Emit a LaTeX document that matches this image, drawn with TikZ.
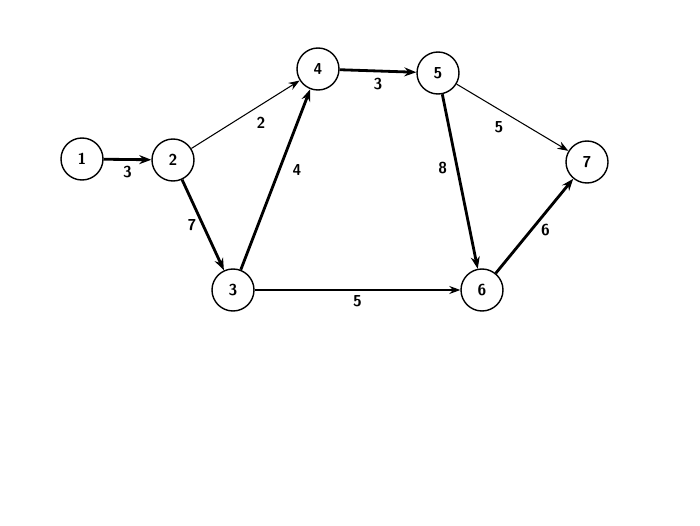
\documentclass[tikz,border=0pt]{standalone}
\usetikzlibrary{arrows.meta}
\begin{document}
\begin{tikzpicture}
			[mynode/.style={circle,draw,thick,fill=white,minimum size=0.84cm,inner sep=0pt,font=\sffamily\bfseries\small},
			thin edge/.style={-{Stealth[length=2.2mm,width=1.6mm]},line width=0.6pt},
			crit edge/.style={-{Stealth[length=2.4mm,width=1.8mm]},line width=1.6pt},]
		\useasboundingbox (0,0) rectangle (14,10.5);
		\node[mynode,name=1] at (1.64,7.32) {1};
		\node[mynode,name=2] at (3.46,7.30) {2};
		\node[mynode,name=3] at (4.66,4.70) {3};
		\node[mynode,name=4] at (6.36,9.12) {4};
		\node[mynode,name=5] at (8.76,9.04) {5};
		\node[mynode,name=6] at (9.64,4.70) {6};
		\node[mynode,name=7] at (11.74,7.26) {7};
		\tikzset{lbl/.style={font=\sffamily\bfseries\small,inner sep=3pt}}
		\draw[crit edge] (1) -- node[lbl,below] {3} (2);
		\draw[thin edge] (2) -- node[lbl,below right,pos=0.55] {2} (4);
		\draw[crit edge] (2) -- node[lbl,left] {7} (3);
		\draw[crit edge] (3) -- node[lbl,right,pos=0.55,xshift=4pt] {4} (4);
		\draw[crit edge] (4) -- node[lbl,below] {3} (5);
		\draw[thin edge] (5) -- node[lbl,below left,pos=0.47] {5} (7);
		\draw[crit edge] (5) -- node[lbl,left,pos=0.42,xshift=-2pt] {8} (6);
		\draw[crit edge] (6) -- node[lbl,right,pos=0.5,yshift=-2pt] {6} (7);
		\draw[thin edge] (3) -- node[lbl,below] {5} (6);
		\end{tikzpicture}
\end{document}
